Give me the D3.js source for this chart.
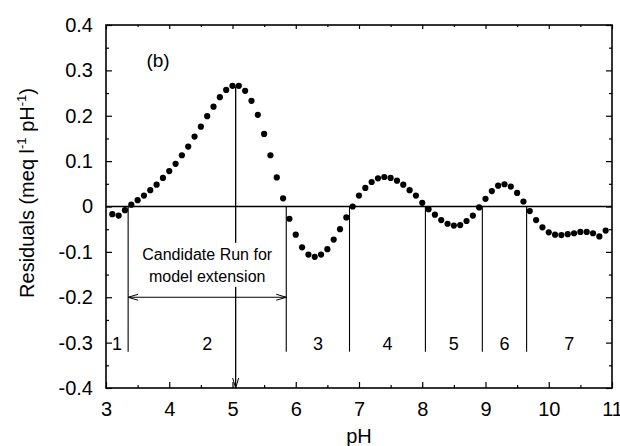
<!DOCTYPE html>
<html>
<head>
<meta charset="utf-8">
<script src="https://cdn.jsdelivr.net/npm/d3@7"></script>
<style>
  body { margin: 0; background: #fff; }
  text { font-family: "Liberation Sans", Arial, Helvetica, sans-serif; fill: #000; }
</style>
</head>
<body>
<div id="chart"></div>
<script>
// residuals vs pH
var phValues = [3.1, 3.2, 3.3, 3.4, 3.5, 3.6, 3.7, 3.8, 3.9, 4.0,
    4.1, 4.2, 4.3, 4.4, 4.5, 4.6, 4.7, 4.8, 4.9, 5.0,
    5.1, 5.2, 5.3, 5.4, 5.5, 5.6, 5.7, 5.8, 5.9, 6.0,
    6.1, 6.2, 6.3, 6.4, 6.5, 6.6, 6.7, 6.8, 6.9, 7.0,
    7.1, 7.2, 7.3, 7.4, 7.5, 7.6, 7.7, 7.8, 7.9, 8.0,
    8.1, 8.2, 8.3, 8.4, 8.5, 8.6, 8.7, 8.8, 8.9, 9.0,
    9.1, 9.2, 9.3, 9.4, 9.5, 9.6, 9.7, 9.8, 9.9, 10.0,
    10.1, 10.2, 10.3, 10.4, 10.5, 10.6, 10.7, 10.8, 10.9];
var residuals = [-0.017, -0.020, -0.008, 0.004, 0.014, 0.024, 0.036, 0.048, 0.063, 0.078,
    0.094, 0.113, 0.132, 0.154, 0.176, 0.199, 0.220, 0.241, 0.257, 0.266,
    0.266, 0.255, 0.233, 0.202, 0.160, 0.113, 0.064, 0.018, -0.027, -0.062,
    -0.090, -0.106, -0.111, -0.106, -0.094, -0.073, -0.050, -0.024, 0.000, 0.024,
    0.041, 0.054, 0.062, 0.065, 0.063, 0.057, 0.048, 0.036, 0.024, 0.008,
    -0.006, -0.018, -0.030, -0.038, -0.042, -0.041, -0.032, -0.020, -0.002, 0.017,
    0.034, 0.046, 0.049, 0.044, 0.030, 0.011, -0.010, -0.030, -0.046, -0.057,
    -0.062, -0.063, -0.061, -0.059, -0.056, -0.056, -0.059, -0.066, -0.053];

// run boundaries (zero crossings) and run numbers
var boundaries = [3.35, 5.85, 6.85, 8.05, 8.95, 9.65];
var runLabels = ['1', '2', '3', '4', '5', '6', '7'];

// candidate run annotation
var candidatePh = 5.05;
var candidatePeak = 0.265;
var candidateText = ['Candidate Run for', 'model extension'];

var xTicks = [3, 4, 5, 6, 7, 8, 9, 10, 11];
var xMinorTicks = [3.5, 4.5, 5.5, 6.5, 7.5, 8.5, 9.5, 10.5];
var yTicks = [0.4, 0.3, 0.2, 0.1, 0, -0.1, -0.2, -0.3, -0.4];
var yTickLabels = ['0.4', '0.3', '0.2', '0.1', '0', '-0.1', '-0.2', '-0.3', '-0.4'];
var yMinorTicks = [0.35, 0.25, 0.15, 0.05, -0.05, -0.15, -0.25, -0.35];

var width = 620, height = 446;
var plotLeft = 106, plotRight = 612, plotTop = 25, plotBottom = 388;

var svg = d3.select('#chart').append('svg')
    .attr('width', width)
    .attr('height', height);

var x = d3.scaleLinear().domain([3, 11]).range([plotLeft, plotRight]);
var y = d3.scaleLinear().domain([-0.4, 0.4]).range([plotBottom, plotTop]);

// axes, ticks pointing inward on all four sides
function drawAxis(axis, tx, ty) {
    var g = svg.append('g')
        .attr('transform', 'translate(' + tx + ',' + ty + ')')
        .call(axis);
    g.select('.domain').remove();
    g.selectAll('line').attr('stroke', '#000').attr('stroke-width', 1.2);
    return g;
}

var yLabelMap = {};
yTicks.forEach(function (t, i) { yLabelMap[t] = yTickLabels[i]; });

var gy = drawAxis(d3.axisLeft(y).tickValues(yTicks).tickSize(-6).tickPadding(13)
    .tickFormat(function (d) { return yLabelMap[d]; }), plotLeft, 0);
gy.selectAll('text').attr('font-size', 20)
    .style('font-family', '"Liberation Sans", Arial, sans-serif');
drawAxis(d3.axisLeft(y).tickValues(yMinorTicks).tickSize(-3).tickFormat(''), plotLeft, 0);
drawAxis(d3.axisRight(y).tickValues(yTicks).tickSize(-6).tickFormat(''), plotRight, 0);
drawAxis(d3.axisRight(y).tickValues(yMinorTicks).tickSize(-3).tickFormat(''), plotRight, 0);

var gx = drawAxis(d3.axisBottom(x).tickValues(xTicks).tickSize(-6).tickPadding(14)
    .tickFormat(d3.format('d')), 0, plotBottom);
gx.selectAll('text').attr('font-size', 20)
    .style('font-family', '"Liberation Sans", Arial, sans-serif');
drawAxis(d3.axisBottom(x).tickValues(xMinorTicks).tickSize(-3).tickFormat(''), 0, plotBottom);
drawAxis(d3.axisTop(x).tickValues(xTicks).tickSize(-4).tickFormat(''), 0, plotTop);
drawAxis(d3.axisTop(x).tickValues(xMinorTicks).tickSize(-2).tickFormat(''), 0, plotTop);

// frame
svg.append('rect')
    .attr('x', plotLeft).attr('y', plotTop)
    .attr('width', plotRight - plotLeft).attr('height', plotBottom - plotTop)
    .attr('fill', 'none').attr('stroke', '#000').attr('stroke-width', 1.6);

// zero line
svg.append('line')
    .attr('x1', x(3)).attr('x2', x(11))
    .attr('y1', y(0)).attr('y2', y(0))
    .attr('stroke', '#000').attr('stroke-width', 1.3);

// run boundaries
svg.selectAll('line.run')
    .data(boundaries)
    .enter().append('line')
    .attr('class', 'run')
    .attr('x1', function (d) { return x(d); })
    .attr('x2', function (d) { return x(d); })
    .attr('y1', y(0)).attr('y2', y(-0.32))
    .attr('stroke', '#000').attr('stroke-width', 1.1);

// run numbers, centred between boundaries
var edges = [3].concat(boundaries).concat([11]);
svg.selectAll('text.runlabel')
    .data(runLabels)
    .enter().append('text')
    .attr('class', 'runlabel')
    .attr('x', function (d, i) { return x((edges[i] + edges[i + 1]) / 2); })
    .attr('y', y(-0.3) + 7)
    .attr('text-anchor', 'middle')
    .attr('font-size', 18)
    .text(function (d) { return d; });

// candidate run: vertical arrow from peak down to the axis
var cx = x(candidatePh);
svg.append('line')
    .attr('x1', cx).attr('x2', cx)
    .attr('y1', y(candidatePeak)).attr('y2', y(-0.4))
    .attr('stroke', '#000').attr('stroke-width', 1.3);
svg.append('path')
    .attr('d', 'M' + (cx - 3) + ',' + (y(-0.4) - 10) + 'L' + cx + ',' + y(-0.4) + 'L' + (cx + 3) + ',' + (y(-0.4) - 10))
    .attr('fill', 'none').attr('stroke', '#000').attr('stroke-width', 1);

// horizontal double arrow spanning run 2
var ay = y(-0.2), ax1 = x(boundaries[0]), ax2 = x(boundaries[1]);
svg.append('line')
    .attr('x1', ax1).attr('x2', ax2)
    .attr('y1', ay).attr('y2', ay)
    .attr('stroke', '#000').attr('stroke-width', 1);
svg.append('path')
    .attr('d', 'M' + (ax1 + 10) + ',' + (ay - 3) + 'L' + ax1 + ',' + ay + 'L' + (ax1 + 10) + ',' + (ay + 3))
    .attr('fill', 'none').attr('stroke', '#000').attr('stroke-width', 1);
svg.append('path')
    .attr('d', 'M' + (ax2 - 10) + ',' + (ay - 3) + 'L' + ax2 + ',' + ay + 'L' + (ax2 - 10) + ',' + (ay + 3))
    .attr('fill', 'none').attr('stroke', '#000').attr('stroke-width', 1);

// annotation text with a white patch over the arrow
var tx = (ax1 + ax2) / 2;
svg.append('rect')
    .attr('x', tx - 68).attr('y', y(-0.08))
    .attr('width', 136).attr('height', y(-0.177) - y(-0.08))
    .attr('fill', '#fff');
svg.selectAll('text.note')
    .data(candidateText)
    .enter().append('text')
    .attr('class', 'note')
    .attr('x', tx)
    .attr('y', function (d, i) { return y(-0.118) + i * 22; })
    .attr('text-anchor', 'middle')
    .attr('font-size', 16)
    .text(function (d) { return d; });

// residual points
svg.selectAll('circle.pt')
    .data(phValues)
    .enter().append('circle')
    .attr('class', 'pt')
    .attr('cx', function (d) { return x(d); })
    .attr('cy', function (d, i) { return y(residuals[i]); })
    .attr('r', 3.1)
    .attr('fill', '#000');

// panel tag
svg.append('text')
    .attr('x', 158).attr('y', 67)
    .attr('text-anchor', 'middle')
    .attr('font-size', 19)
    .text('(b)');

// axis titles
svg.append('text')
    .attr('x', (plotLeft + plotRight) / 2).attr('y', 443)
    .attr('text-anchor', 'middle')
    .attr('font-size', 20)
    .text('pH');

var yt = svg.append('text')
    .attr('transform', 'translate(34,193) rotate(-90)')
    .attr('text-anchor', 'middle')
    .attr('font-size', 20);
yt.append('tspan').text('Residuals (meq l');
yt.append('tspan').attr('dy', -8).attr('font-size', 13).text('-1');
yt.append('tspan').attr('dy', 8).text(' pH');
yt.append('tspan').attr('dy', -8).attr('font-size', 13).text('-1');
yt.append('tspan').attr('dy', 8).text(')');
</script>
</body>
</html>
